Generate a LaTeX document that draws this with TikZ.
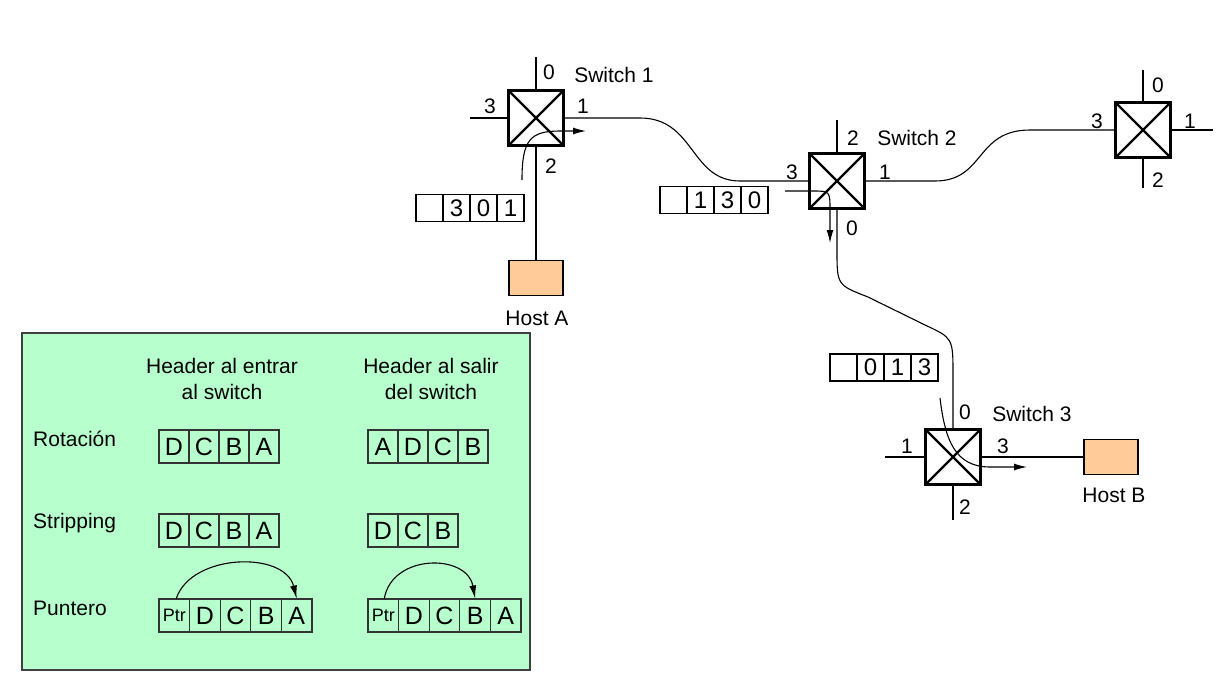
\documentclass[tikz,border=0pt]{standalone}
\usepackage{fontspec}
\setmainfont{Liberation Sans}
\usetikzlibrary{arrows.meta}
\definecolor{durazno}{RGB}{255,204,153}
\definecolor{menta}{RGB}{183,255,204}

\begin{document}
\begin{tikzpicture}[x=0.5pt, y=-0.5pt, line width=0.55pt,
        every node/.style={font=\fontsize{10.5}{13}\selectfont},
        switch/.style={draw=black, line width=1.4pt, minimum size=27.5pt, inner sep=0pt, outer sep=0pt},
        hote/.style={draw=black, fill=durazno, minimum width=27pt, minimum height=17.5pt, inner sep=0pt},
        casilla/.style={draw=black, fill=white, minimum width=13.5pt, minimum height=13.5pt, inner sep=0pt,
                        font=\fontsize{12}{14}\selectfont},
        celda/.style={draw=black!80, minimum width=15pt, minimum height=16.5pt, inner sep=0pt,
                      font=\fontsize{12.5}{14}\selectfont},
        celdap/.style={celda, minimum width=15.3pt},
        ptr/.style={celdap, font=\fontsize{9}{10}\selectfont},
        flecha/.style={-{Latex[length=6.5pt, width=3.5pt]}}]
        \useasboundingbox (0,0) rectangle (1223,686);

        % switches
        \node[switch] (s1) at (536, 118) {};
        \node[switch] (s2) at (837, 181) {};
        \node[switch] (s4) at (1143, 130) {};
        \node[switch] (s3) at (953, 457) {};
        \draw[line width=1.2pt] (s1.north west) -- (s1.south east) (s1.north east) -- (s1.south west);
        \draw[line width=1.2pt] (s2.north west) -- (s2.south east) (s2.north east) -- (s2.south west);
        \draw[line width=1.2pt] (s4.north west) -- (s4.south east) (s4.north east) -- (s4.south west);
        \draw[line width=1.2pt] (s3.north west) -- (s3.south east) (s3.north east) -- (s3.south west);

        % hosts
        \node[hote] (hA) at (536, 278) {};
        \node[hote] (hB) at (1111, 457) {};
        \node (tA) at (537, 318) {Host A};
        \node (tB) at (1114, 495) {Host B};

        % free port ends
        \coordinate (p10) at (536, 57);
        \coordinate (p13) at (470, 118);
        \coordinate (p22) at (837, 120);
        \coordinate (p40) at (1143, 70);
        \coordinate (p41) at (1213, 130);
        \coordinate (p42) at (1143, 188);
        \coordinate (p31) at (885, 457);
        \coordinate (p32) at (953, 520);

        \draw[-] (s1.north) to (p10);
        \draw[-] (s1.west) to (p13);
        \draw[-] (s1.south) to (hA.north);
        \draw[-] (s2.north) to (p22);
        \draw[-] (s4.north) to (p40);
        \draw[-] (s4.east) to (p41);
        \draw[-] (s4.south) to (p42);
        \draw[-] (s3.west) to (p31);
        \draw[-] (s3.south) to (p32);
        \draw[-] (s3.east) to (hB.west);

        % links
        \draw[-] (s1.east) -- (640, 118) .. controls (695, 118) and (690, 181) .. (740, 181) -- (s2.west);
        \draw[-] (s2.east) -- (935, 181) .. controls (985, 181) and (975, 130) .. (1030, 130) -- (s4.west);
        \draw[-] (s2.south) -- (837, 250) .. controls (837, 285) .. (868, 297) -- (925, 325)
                 .. controls (953, 338) .. (953, 375) -- (s3.north);

        % port labels
        \node (l10) at (549, 72) {0};
        \node (n1) at (614, 75) {Switch 1};
        \node (l13) at (490, 106) {3};
        \node (l11) at (583, 106) {1};
        \node (l12) at (551, 166) {2};

        \node (l22) at (853, 138) {2};
        \node (n2) at (917, 138) {Switch 2};
        \node (l23) at (792, 172) {3};
        \node (l21) at (885, 172) {1};
        \node (l20) at (852, 228) {0};

        \node (l40) at (1158, 85) {0};
        \node (l43) at (1097, 121) {3};
        \node (l41) at (1190, 121) {1};
        \node (l42) at (1158, 180) {2};

        \node (l30) at (965, 412) {0};
        \node (n3) at (1032, 414) {Switch 3};
        \node (l31) at (907, 446) {1};
        \node (l33) at (1003, 446) {3};
        \node (l32) at (965, 507) {2};

        % headers on the path
        \node[casilla] (h1a) at (429.5, 208) {};
        \node[casilla] (h1b) at (456.5, 208) {3};
        \node[casilla] (h1c) at (483.5, 208) {0};
        \node[casilla] (h1d) at (510.5, 208) {1};

        \node[casilla] (h2a) at (673.5, 200) {};
        \node[casilla] (h2b) at (700.5, 200) {1};
        \node[casilla] (h2c) at (727.5, 200) {3};
        \node[casilla] (h2d) at (754.5, 200) {0};

        \node[casilla] (h3a) at (843.5, 367.5) {};
        \node[casilla] (h3b) at (870.5, 367.5) {0};
        \node[casilla] (h3c) at (897.5, 367.5) {1};
        \node[casilla] (h3d) at (924.5, 367.5) {3};

        % routes through the switches
        \coordinate (r1) at (522, 180);
        \coordinate (r1f) at (586, 131);
        \draw[flecha] (r1) .. controls (522, 140) and (530, 131) .. (560, 131) -- (r1f);
        \coordinate (r2) at (785, 191);
        \coordinate (r2f) at (830, 243);
        \draw[flecha] (r2) -- (812, 191) .. controls (830, 191) .. (830, 210) -- (r2f);
        \coordinate (r3) at (940, 398);
        \coordinate (r3f) at (1027, 467);
        \draw[flecha] (r3) .. controls (945, 440) and (955, 467) .. (990, 467) -- (r3f);

        % legend
        \draw[draw=black!75, fill=menta] (22, 333) rectangle (530, 670);
        \node[align=center] (tentrar) at (222, 379) {Header al entrar\\al switch};
        \node[align=center] (tsalir) at (431, 379) {Header al salir\\del switch};
        \node[anchor=west] (trot) at (26, 439) {Rotación};
        \node[anchor=west] (tstr) at (26, 523) {Stripping};
        \node[anchor=west] (tpun) at (26, 608) {Puntero};

        \node[celda] (e1a) at (174, 446.5) {D};
        \node[celda] (e1b) at (204, 446.5) {C};
        \node[celda] (e1c) at (234, 446.5) {B};
        \node[celda] (e1d) at (264, 446.5) {A};
        \node[celda] (s1a) at (383, 446.5) {A};
        \node[celda] (s1b) at (413, 446.5) {D};
        \node[celda] (s1c) at (443, 446.5) {C};
        \node[celda] (s1d) at (473, 446.5) {B};

        \node[celda] (e2a) at (174, 530.5) {D};
        \node[celda] (e2b) at (204, 530.5) {C};
        \node[celda] (e2c) at (234, 530.5) {B};
        \node[celda] (e2d) at (264, 530.5) {A};
        \node[celda] (s2a) at (383, 530.5) {D};
        \node[celda] (s2b) at (413, 530.5) {C};
        \node[celda] (s2c) at (443, 530.5) {B};

        \node[ptr] (e3a) at (174.3, 615.5) {Ptr};
        \node[celdap] (e3b) at (204.9, 615.5) {D};
        \node[celdap] (e3c) at (235.5, 615.5) {C};
        \node[celdap] (e3d) at (266.1, 615.5) {B};
        \node[celdap] (e3e) at (296.7, 615.5) {A};
        \node[ptr] (s3a) at (383.3, 615.5) {Ptr};
        \node[celdap] (s3b) at (413.9, 615.5) {D};
        \node[celdap] (s3c) at (444.5, 615.5) {C};
        \node[celdap] (s3d) at (475.1, 615.5) {B};
        \node[celdap] (s3e) at (505.7, 615.5) {A};

        \draw[flecha] ([xshift=1pt]e3a.north) .. controls +(15, -45) and +(-12, -48) .. (e3e.north);
        \draw[flecha] ([xshift=0.5pt]s3a.north) .. controls +(8, -45) and +(-8, -45) .. (s3d.north);
    \end{tikzpicture}
\end{document}
